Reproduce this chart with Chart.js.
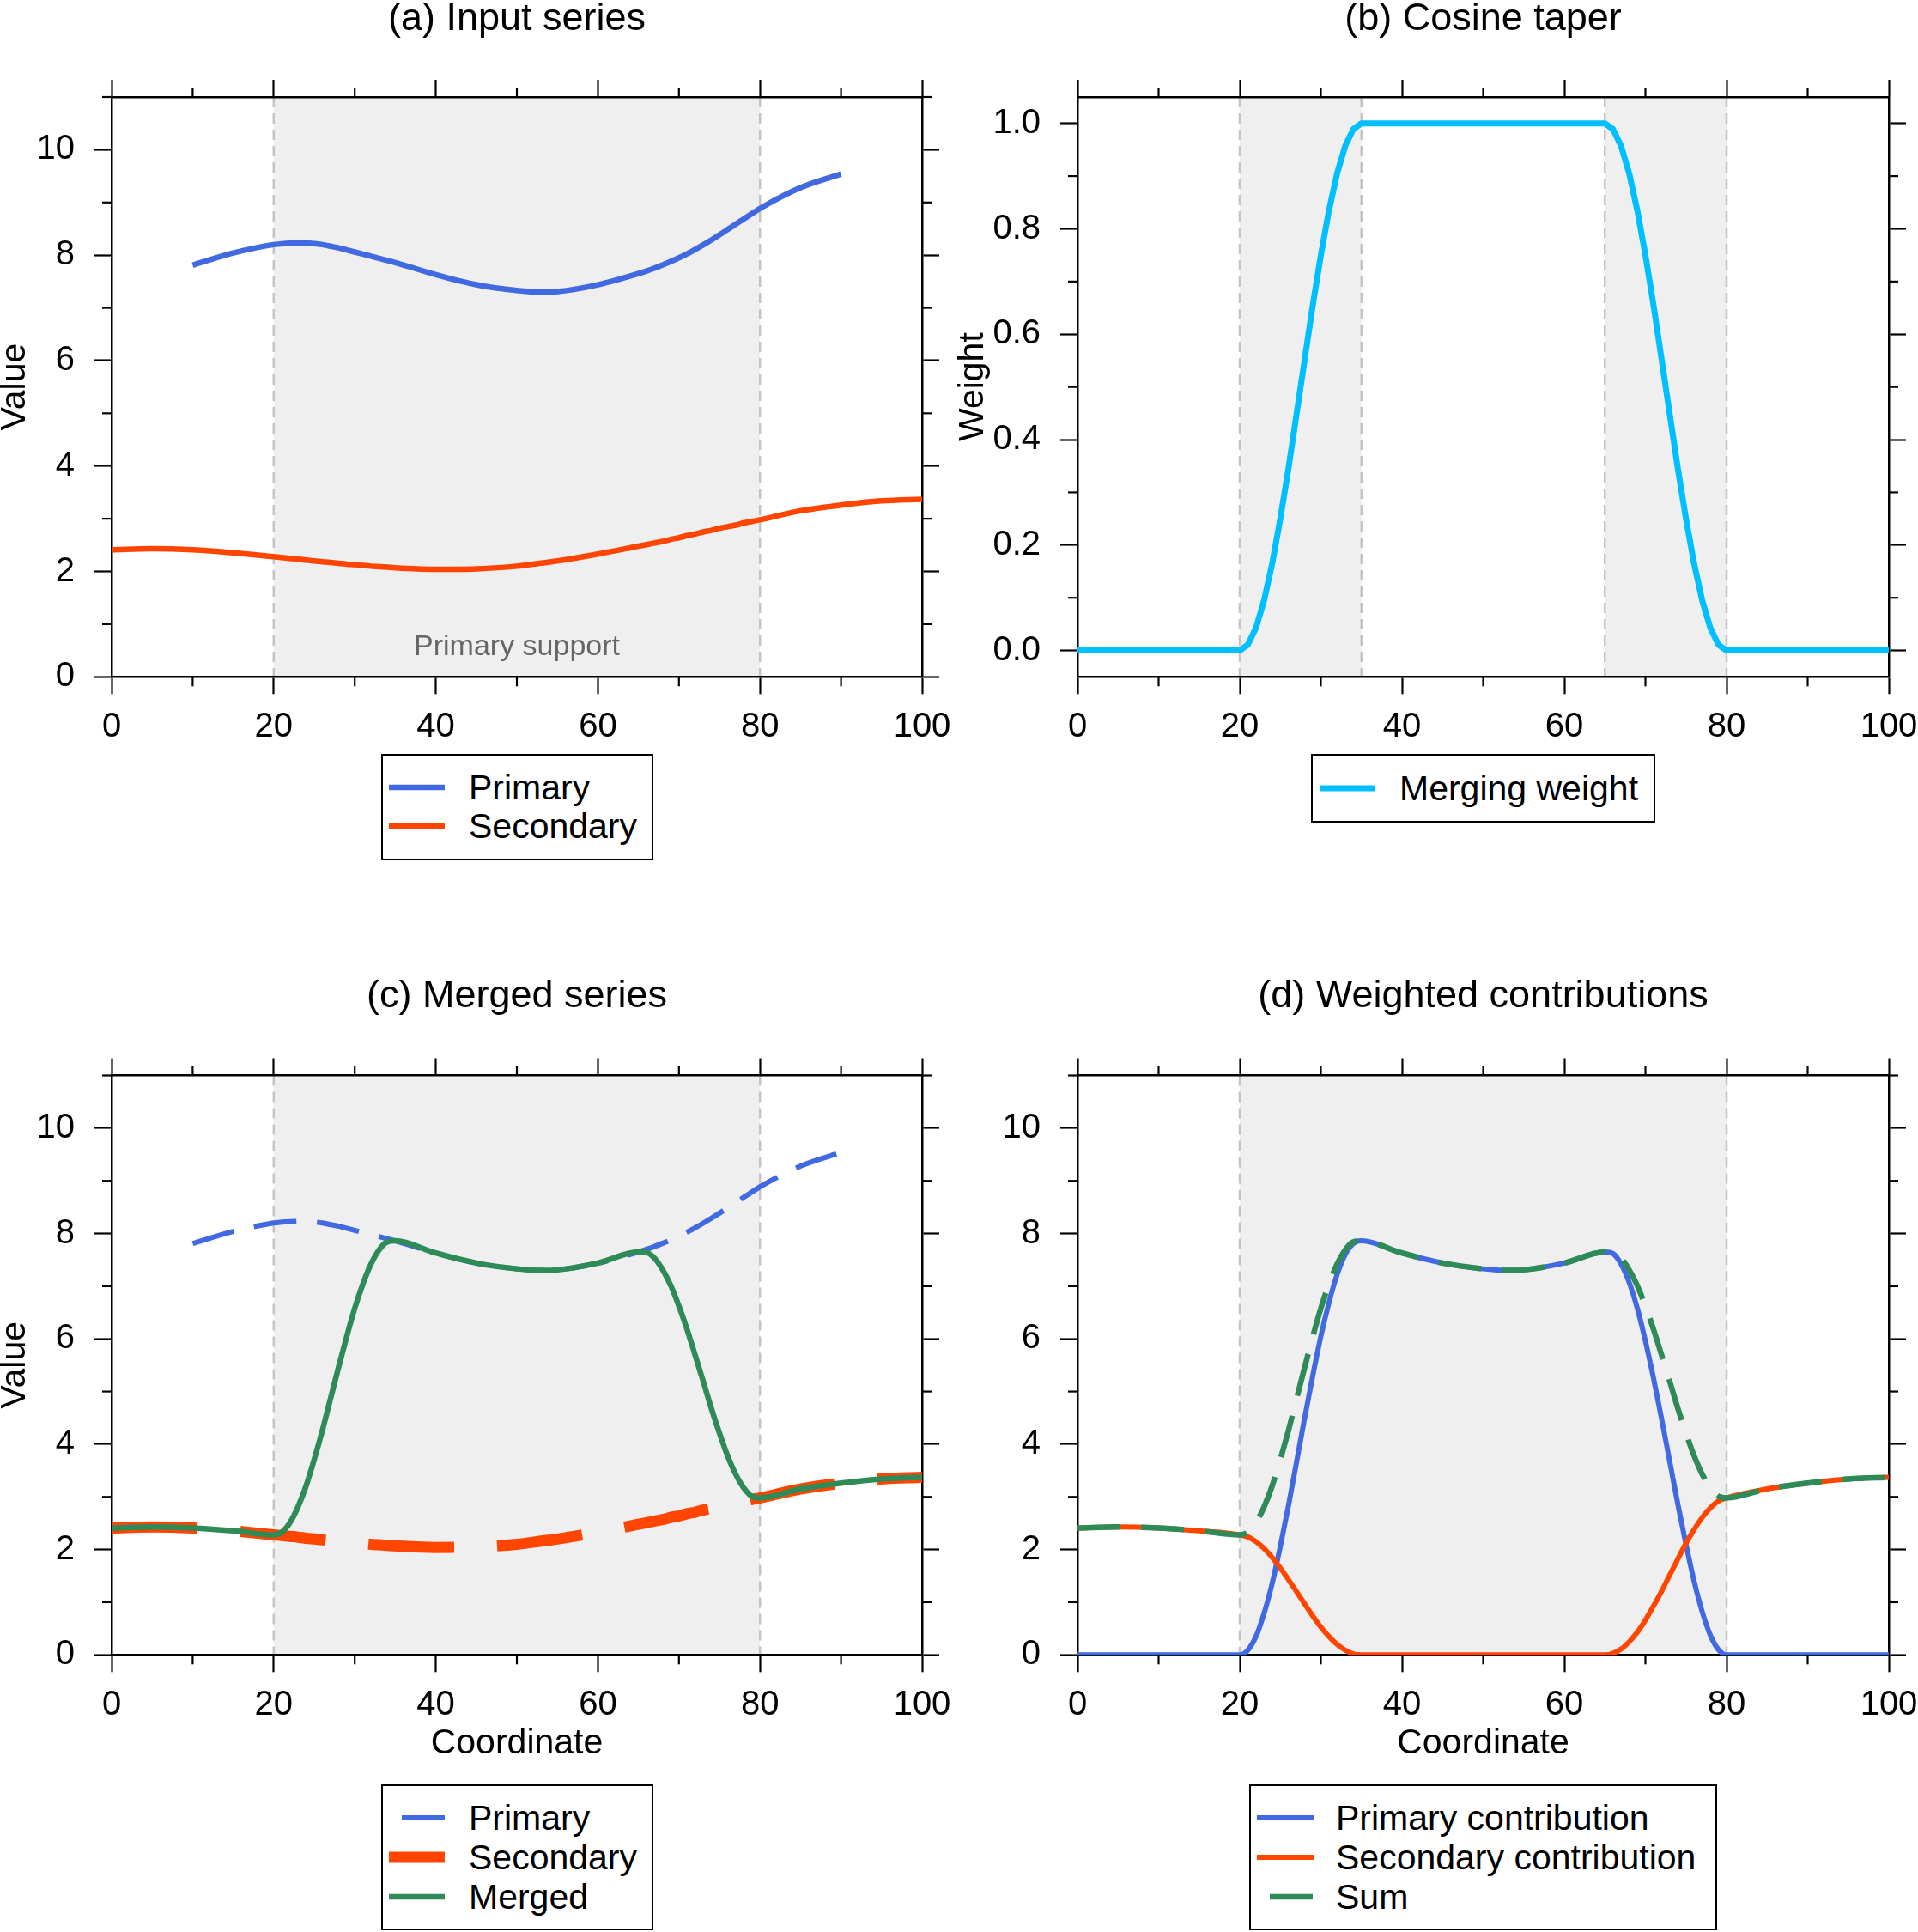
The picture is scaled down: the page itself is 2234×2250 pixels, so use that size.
<!DOCTYPE html>
<html>
<head>
<meta charset="utf-8">
<script src="https://cdn.jsdelivr.net/npm/chart.js@4.4.1/dist/chart.umd.min.js"></script>
<style>
  html, body { margin: 0; padding: 0; background: #fff; }
  #page { position: relative; width: 2234px; height: 2250px; overflow: hidden; background: #fff; }
  canvas { position: absolute; }
  svg.legend { position: absolute; }
</style>
</head>
<body>
<div id="page">
  <canvas id="chartA" width="1117" height="1040" style="left:0px;top:0px"></canvas>
  <canvas id="chartB" width="1134" height="1040" style="left:1100px;top:0px"></canvas>
  <canvas id="chartC" width="1117" height="1000" style="left:0px;top:1100px"></canvas>
  <canvas id="chartD" width="1134" height="1000" style="left:1100px;top:1100px"></canvas>
</div>
<script>
// sample positions along the coordinate axis
const xGrid = [0, 5, 10, 15,
  20, 21, 22, 23, 24, 25, 26, 27, 28, 29, 30, 31, 32, 33, 34, 35,
  40, 45, 50, 53, 55, 60,
  65, 66, 67, 68, 69, 70, 71, 72, 73, 74, 75, 76, 77, 78, 79, 80,
  85, 90, 95, 100];

const primaryValues = [null, null, 7.81, 8.04,
  8.20, 8.215, 8.225, 8.23, 8.23, 8.22, 8.20, 8.17, 8.14, 8.10, 8.06, 8.02, 7.98, 7.94, 7.90, 7.86,
  7.63, 7.44, 7.33, 7.30, 7.31, 7.44,
  7.65, 7.70, 7.755, 7.815, 7.88, 7.95, 8.026, 8.108, 8.196, 8.289, 8.386, 8.486, 8.587, 8.688, 8.788, 8.886,
  9.28, 9.54, null, null];

const secondaryValues = [2.41, 2.43, 2.41, 2.355,
  2.28, 2.265, 2.25, 2.235, 2.215, 2.20, 2.185, 2.17, 2.155, 2.14, 2.13, 2.115, 2.10, 2.09, 2.08, 2.07,
  2.04, 2.05, 2.10, 2.16, 2.20, 2.33,
  2.48, 2.51, 2.54, 2.57, 2.61, 2.64, 2.68, 2.71, 2.75, 2.78, 2.82, 2.85, 2.88, 2.92, 2.95, 2.98,
  3.15, 3.26, 3.34, 3.37];

const weightValues = [0, 0, 0, 0,
  0, 0.011, 0.043, 0.095, 0.165, 0.25, 0.345, 0.448, 0.552, 0.655, 0.75, 0.835, 0.905, 0.957, 0.989, 1,
  1, 1, 1, 1, 1, 1,
  1, 0.989, 0.957, 0.905, 0.835, 0.75, 0.655, 0.552, 0.448, 0.345, 0.25, 0.165, 0.095, 0.043, 0.011, 0,
  0, 0, 0, 0];

const mergedValues = [2.41, 2.43, 2.41, 2.355,
  2.28, 2.33, 2.51, 2.81, 3.21, 3.71, 4.26, 4.86, 5.46, 6.04, 6.58, 7.04, 7.42, 7.69, 7.84, 7.86,
  7.63, 7.44, 7.33, 7.30, 7.31, 7.44,
  7.65, 7.64, 7.53, 7.31, 7.01, 6.62, 6.18, 5.69, 5.19, 4.68, 4.21, 3.78, 3.43, 3.17, 3.01, 2.98,
  3.15, 3.26, 3.34, 3.37];

const primaryContribution = [0, 0, 0, 0,
  0, 0.09, 0.35, 0.79, 1.36, 2.06, 2.83, 3.66, 4.50, 5.30, 6.05, 6.69, 7.22, 7.60, 7.81, 7.86,
  7.63, 7.44, 7.33, 7.30, 7.31, 7.44,
  7.65, 7.62, 7.42, 7.07, 6.58, 5.96, 5.25, 4.48, 3.67, 2.86, 2.10, 1.40, 0.82, 0.375, 0.10, 0,
  0, 0, 0, 0];

const secondaryContribution = [2.41, 2.43, 2.41, 2.355,
  2.28, 2.24, 2.15, 2.02, 1.85, 1.65, 1.43, 1.20, 0.97, 0.74, 0.53, 0.35, 0.20, 0.09, 0.02, 0,
  0, 0, 0, 0, 0, 0,
  0, 0.03, 0.11, 0.25, 0.43, 0.66, 0.93, 1.21, 1.52, 1.82, 2.12, 2.38, 2.61, 2.79, 2.92, 2.98,
  3.15, 3.26, 3.34, 3.37];

// shaded regions and their edges
const supportRange = [[20, 80]];
const supportEdges = [20, 80];
const taperRanges = [[20, 35], [65, 80]];
const taperEdges = [20, 35, 65, 80];

// minor tick positions
const xMinorTicks = [10, 30, 50, 70, 90];
const valueMinorTicks = [1, 3, 5, 7, 9, 11];
const weightMinorTicks = [0.1, 0.3, 0.5, 0.7, 0.9];

const BLUE = '#4169E1', ORANGE = '#FF4500', GREEN = '#2E8B57', CYAN = '#00BFFF';
const FONT = '"Liberation Sans", Arial, Helvetica, sans-serif';

Chart.defaults.font.family = FONT;
Chart.defaults.color = '#000';

function series(values, color, width, dash, order, smooth) {
  return {
    data: xGrid.map((x, i) => ({ x: x, y: values[i] })),
    borderColor: color,
    borderWidth: width,
    borderDash: dash || [],
    borderCapStyle: 'butt',
    borderJoinStyle: 'round',
    pointRadius: 0,
    fill: false,
    tension: 0,
    cubicInterpolationMode: smooth === false ? 'default' : 'monotone',
    spanGaps: false,
    order: order
  };
}

function bandPlugin(ranges, edges, note) {
  return {
    id: 'bands',
    beforeDraw(chart) {
      const { ctx, chartArea: a, scales } = chart;
      const x = scales.x, y = scales.y;
      ctx.save();
      ctx.fillStyle = '#efefef';
      ranges.forEach(r => {
        const p0 = x.getPixelForValue(r[0]), p1 = x.getPixelForValue(r[1]);
        ctx.fillRect(p0, a.top, p1 - p0, a.bottom - a.top);
      });
      ctx.strokeStyle = '#c4c4c4';
      ctx.lineWidth = 2.5;
      ctx.setLineDash([12, 7]);
      edges.forEach(v => {
        const p = x.getPixelForValue(v);
        ctx.beginPath();
        ctx.moveTo(p, a.top);
        ctx.lineTo(p, a.bottom);
        ctx.stroke();
      });
      ctx.setLineDash([]);
      if (note) {
        ctx.fillStyle = '#666';
        ctx.font = '34px ' + FONT;
        ctx.textAlign = 'center';
        ctx.textBaseline = 'middle';
        ctx.fillText(note.text, x.getPixelForValue(note.x), y.getPixelForValue(note.y));
      }
      ctx.restore();
    }
  };
}

function minorTickPlugin(yMinor) {
  return {
    id: 'minorTicks',
    afterDraw(chart) {
      const { ctx, chartArea: a, scales } = chart;
      const x = scales.x, y = scales.y;
      ctx.save();
      ctx.strokeStyle = '#000';
      ctx.lineWidth = 2.2;
      const seg = (x0, y0, x1, y1) => { ctx.beginPath(); ctx.moveTo(x0, y0); ctx.lineTo(x1, y1); ctx.stroke(); };
      xMinorTicks.forEach(v => {
        const p = x.getPixelForValue(v);
        seg(p, a.top, p, a.top - 11);
        seg(p, a.bottom, p, a.bottom + 11);
      });
      yMinor.forEach(v => {
        const p = y.getPixelForValue(v);
        seg(a.left, p, a.left - 11, p);
        seg(a.right, p, a.right + 11, p);
      });
      ctx.restore();
    }
  };
}

// fixed box sizes so every plot area sits where the reference has it
function fixBox(prop, size) {
  return s => {
    s[prop] = size;
    s.paddingLeft = 0; s.paddingRight = 0; s.paddingTop = 0; s.paddingBottom = 0;
  };
}

function makeChart(id, c) {
  const border = { display: true, color: '#000', width: 2.5 };
  const grid = { display: true, drawOnChartArea: false, drawTicks: true, tickLength: 20,
                 tickWidth: 2.2, tickColor: '#000', color: '#000' };
  const tickFont = { size: 40, lineHeight: 1.2 };
  const axisTitleFont = { size: 41, lineHeight: 1 };
  return new Chart(document.getElementById(id), {
    type: 'line',
    data: { datasets: c.datasets },
    options: {
      responsive: false,
      animation: false,
      events: [],
      layout: { padding: 0, autoPadding: false },
      plugins: {
        legend: { display: false },
        tooltip: { enabled: false },
        title: {
          display: true, text: c.title, fullSize: false, color: '#000',
          font: { size: 45, weight: 'normal', lineHeight: 1 },
          padding: { top: c.titlePad, bottom: 0 }
        }
      },
      scales: {
        x: {
          type: 'linear', position: 'bottom', min: 0, max: 100,
          border: border, grid: grid,
          ticks: { stepSize: 20, font: tickFont, color: '#000', padding: 15, maxRotation: 0, autoSkip: false, includeBounds: false },
          title: { display: !!c.xTitle, text: c.xTitle || '', color: '#000', font: axisTitleFont, padding: { top: 0, bottom: c.xTitlePad || 0 } },
          afterFit: fixBox('height', c.bottomH)
        },
        x2: {
          type: 'linear', position: 'top', min: 0, max: 100,
          border: border, grid: grid,
          ticks: { stepSize: 20, display: false, includeBounds: false },
          afterFit: fixBox('height', c.topH)
        },
        y: {
          type: 'linear', position: 'left', min: c.yMin, max: c.yMax,
          border: border, grid: grid,
          ticks: { stepSize: c.yStep, font: tickFont, color: '#000', padding: 23, includeBounds: false, autoSkip: false,
                   callback: c.yFormat || (v => v) },
          title: { display: !!c.yTitle, text: c.yTitle || '', color: '#000', font: axisTitleFont, padding: { top: c.yTitlePad || 0, bottom: 0 } },
          afterFit: fixBox('width', c.leftW)
        },
        y2: {
          type: 'linear', position: 'right', min: c.yMin, max: c.yMax,
          border: border, grid: grid,
          ticks: { stepSize: c.yStep, display: false, includeBounds: false },
          afterFit: fixBox('width', c.rightW)
        }
      }
    },
    plugins: [bandPlugin(c.bands, c.edges, c.note), minorTickPlugin(c.yMinor)]
  });
}

makeChart('chartA', {
  title: '(a) Input series', titlePad: 0, topH: 68, bottomH: 251.7, leftW: 130, rightW: 43,
  yMin: 0, yMax: 11, yStep: 2, yMinor: valueMinorTicks, yTitle: 'Value', yTitlePad: -2.5,
  bands: supportRange, edges: supportEdges, note: { text: 'Primary support', x: 50, y: 0.57 },
  datasets: [
    series(primaryValues, BLUE, 6.5, null, 0),
    series(secondaryValues, ORANGE, 6.5, null, 1)
  ]
});

makeChart('chartB', {
  title: '(b) Cosine taper', titlePad: 0, topH: 68, bottomH: 251.7, leftW: 155, rightW: 34,
  yMin: -0.05, yMax: 1.05, yStep: 0.2, yMinor: weightMinorTicks, yTitle: 'Weight', yTitlePad: 13,
  yFormat: v => Number(v).toFixed(1),
  bands: taperRanges, edges: taperEdges, note: null,
  datasets: [
    series(weightValues, CYAN, 7, null, 0, false)
  ]
});

makeChart('chartC', {
  title: '(c) Merged series', titlePad: 38, topH: 69.5, bottomH: 172.7, leftW: 130, rightW: 43,
  yMin: 0, yMax: 11, yStep: 2, yMinor: valueMinorTicks, yTitle: 'Value', yTitlePad: -2.5,
  xTitle: 'Coordinate', xTitlePad: 48.5,
  bands: supportRange, edges: supportEdges, note: null,
  datasets: [
    series(primaryValues, BLUE, 6, [50, 24], 2),
    series(secondaryValues, ORANGE, 13, [100, 50], 1),
    series(mergedValues, GREEN, 6.5, null, 0)
  ]
});

makeChart('chartD', {
  title: '(d) Weighted contributions', titlePad: 38, topH: 69.5, bottomH: 172.7, leftW: 155, rightW: 34,
  yMin: 0, yMax: 11, yStep: 2, yMinor: valueMinorTicks,
  xTitle: 'Coordinate', xTitlePad: 48.5,
  bands: supportRange, edges: supportEdges, note: null,
  datasets: [
    series(primaryContribution, BLUE, 6, null, 2),
    series(secondaryContribution, ORANGE, 6, null, 1),
    series(mergedValues, GREEN, 6.5, [50, 24], 0)
  ]
});

// legends below each panel
function legend(box, rows, textX) {
  let s = '<svg class="legend" xmlns="http://www.w3.org/2000/svg" width="' + box.w + '" height="' + box.h +
          '" style="left:' + box.x + 'px;top:' + box.y + 'px">';
  s += '<rect x="1" y="1" width="' + (box.w - 2) + '" height="' + (box.h - 2) + '" fill="#fff" stroke="#000" stroke-width="2"/>';
  rows.forEach(r => {
    s += '<line x1="' + r.x0 + '" x2="' + r.x1 + '" y1="' + r.y + '" y2="' + r.y + '" stroke="' + r.color +
         '" stroke-width="' + r.width + '"/>';
    s += '<text x="' + textX + '" y="' + r.y + '" dominant-baseline="central" fill="#000" font-size="41" ' +
         'font-family=\'' + FONT.replace(/"/g, '') + '\'>' + r.label + '</text>';
  });
  s += '</svg>';
  document.getElementById('page').insertAdjacentHTML('beforeend', s);
}

legend({ x: 444, y: 878, w: 317, h: 124 }, [
  { label: 'Primary', color: BLUE, width: 6.5, x0: 9, x1: 74, y: 39 },
  { label: 'Secondary', color: ORANGE, width: 6.5, x0: 9, x1: 74, y: 84 }
], 102);

legend({ x: 1527, y: 878, w: 401, h: 80 }, [
  { label: 'Merging weight', color: CYAN, width: 7, x0: 10, x1: 74, y: 40 }
], 103);

legend({ x: 444, y: 2078, w: 317, h: 170 }, [
  { label: 'Primary', color: BLUE, width: 6, x0: 24, x1: 74, y: 39 },
  { label: 'Secondary', color: ORANGE, width: 13, x0: 9, x1: 74, y: 85 },
  { label: 'Merged', color: GREEN, width: 6.5, x0: 9, x1: 74, y: 131 }
], 102);

legend({ x: 1455, y: 2078, w: 545, h: 170 }, [
  { label: 'Primary contribution', color: BLUE, width: 6, x0: 9, x1: 75, y: 39 },
  { label: 'Secondary contribution', color: ORANGE, width: 6, x0: 9, x1: 75, y: 85 },
  { label: 'Sum', color: GREEN, width: 6.5, x0: 24, x1: 74, y: 131 }
], 101);
</script>
</body>
</html>
